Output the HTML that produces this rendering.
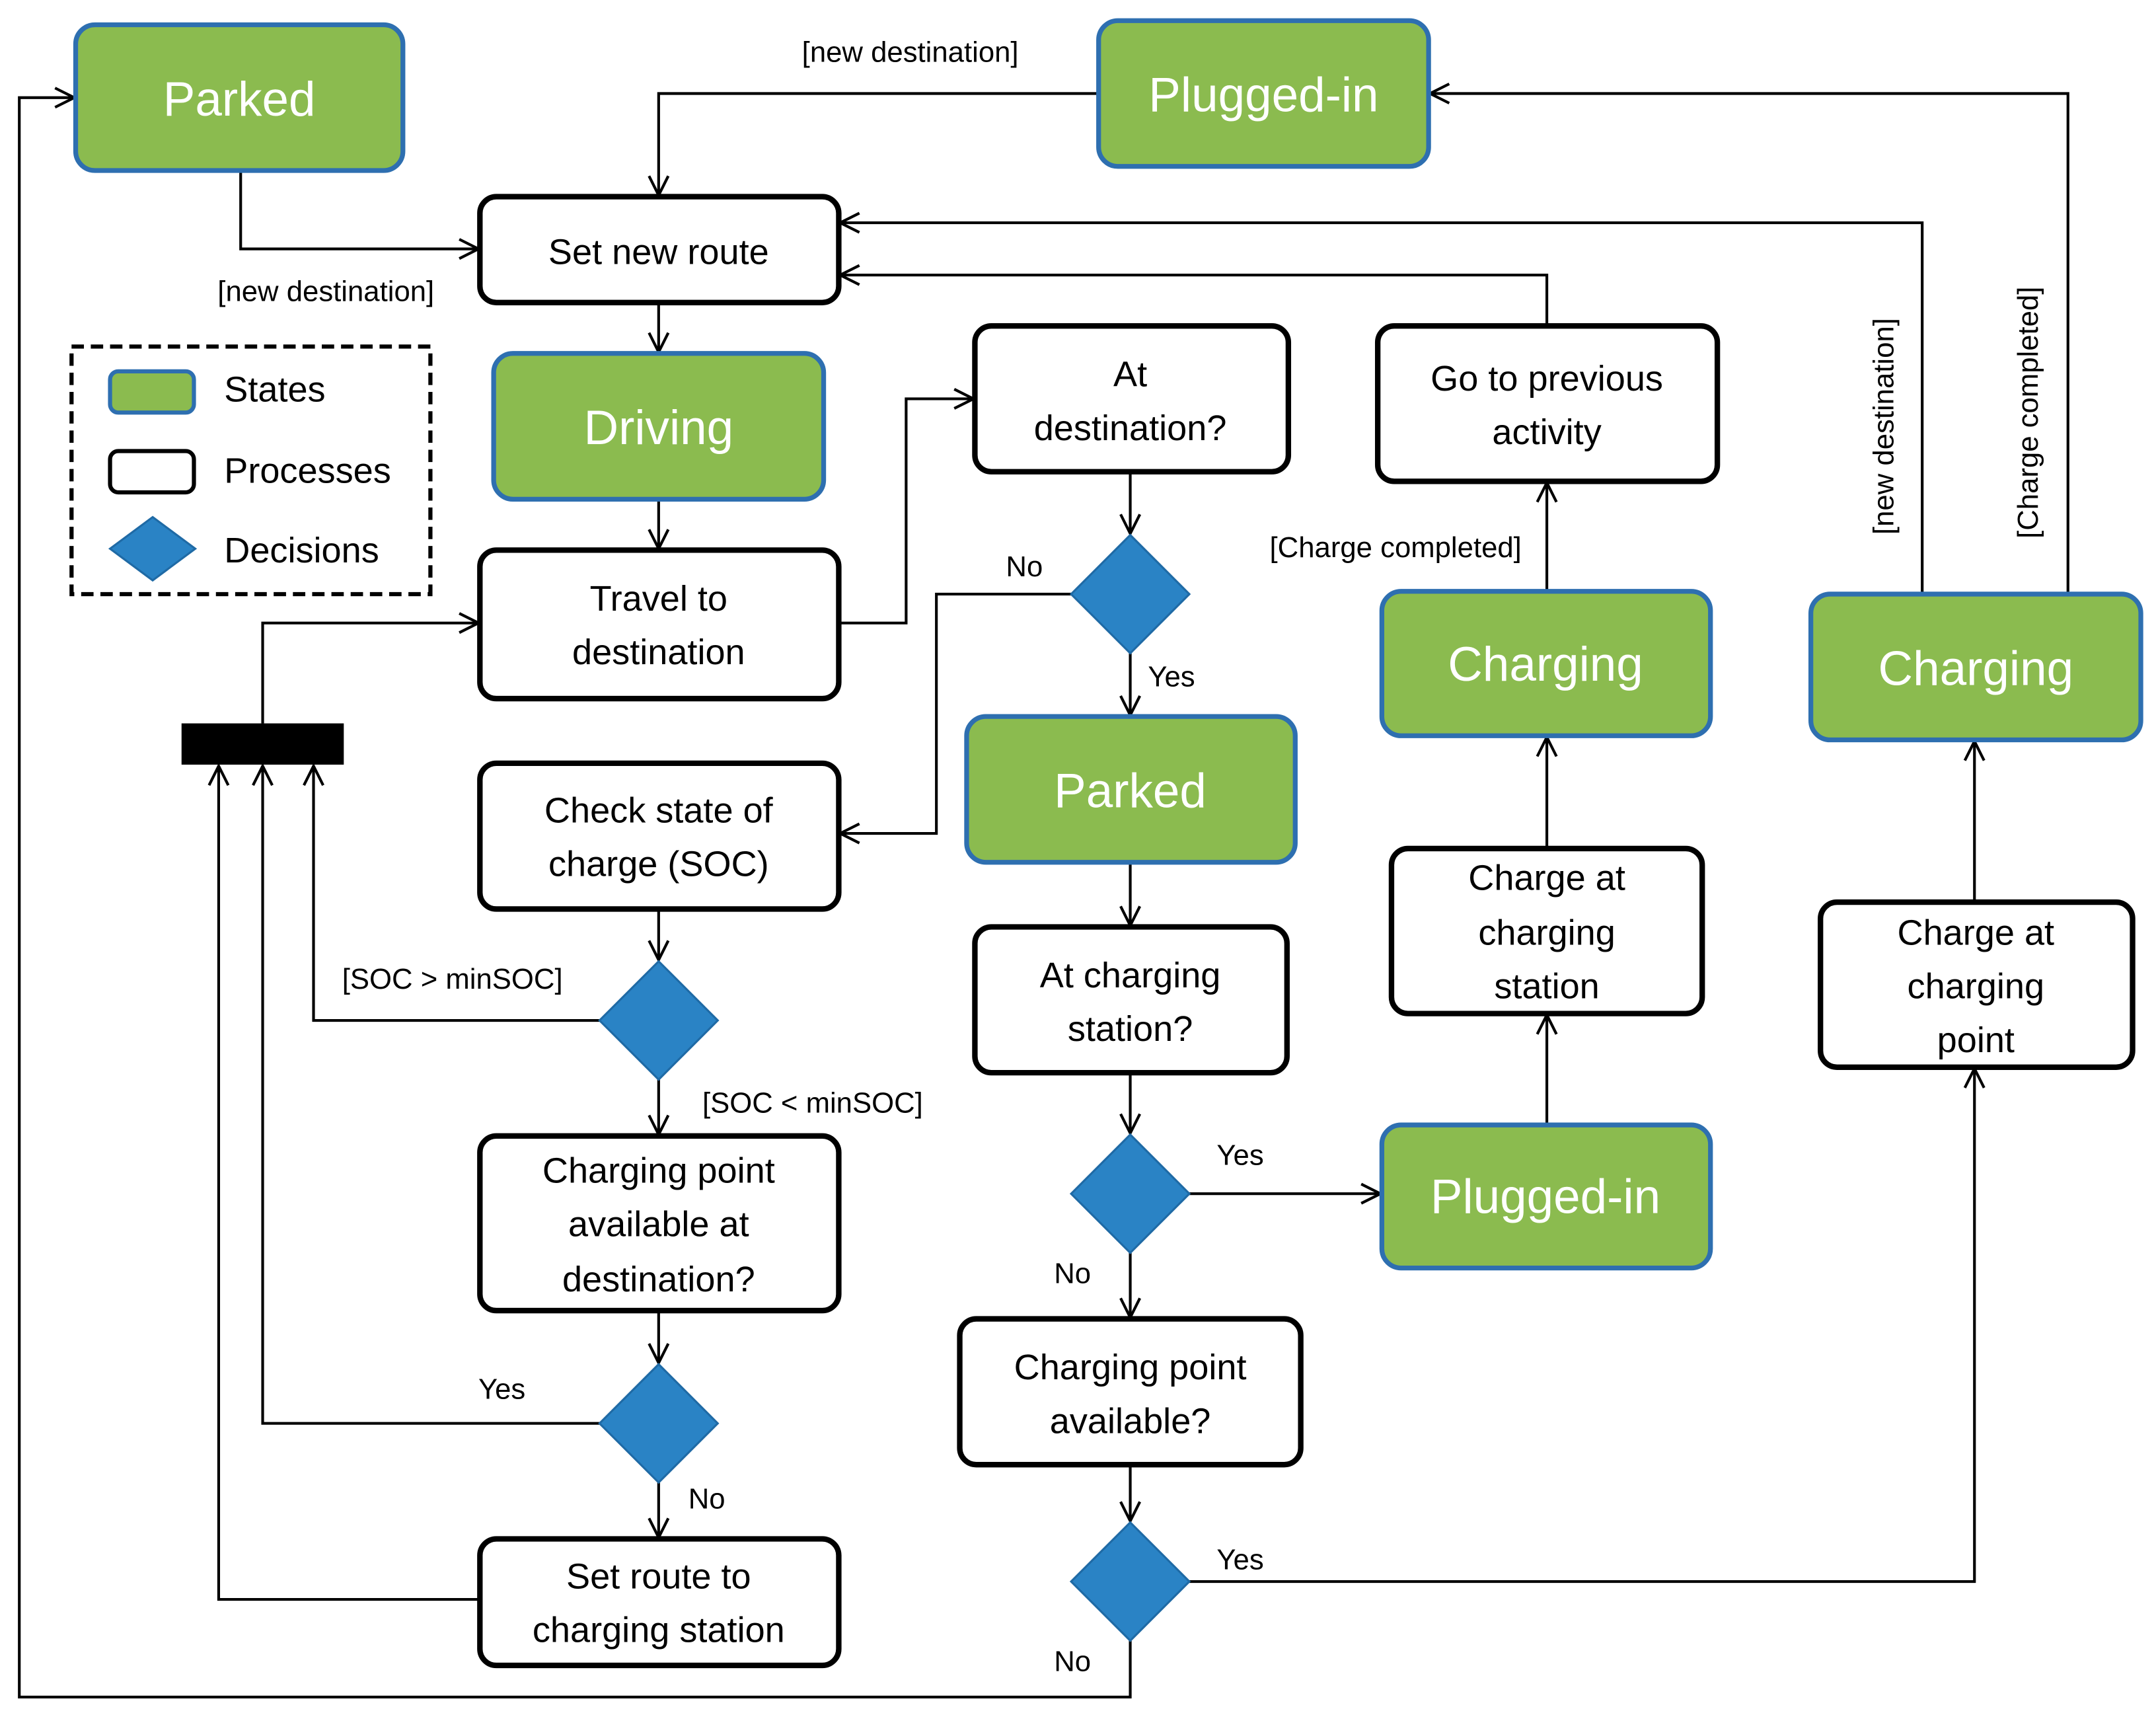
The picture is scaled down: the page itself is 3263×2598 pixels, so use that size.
<!DOCTYPE html>
<html><head><meta charset="utf-8"><style>
html,body{margin:0;padding:0;background:#fff}
svg{display:block}
text{font-family:"Liberation Sans",sans-serif}
.s{fill:#8bbb4f;stroke:#2e6fb0;stroke-width:3.5}
.p{fill:#fff;stroke:#000;stroke-width:4}
.d{fill:#2a83c5;stroke:#1f6aa5;stroke-width:1.5}
.st{fill:#fff;font-size:35px;text-anchor:middle}
.pt{fill:#000;font-size:26px;text-anchor:middle}
.l{fill:#000;font-size:21px;text-anchor:middle}
.c{fill:none;stroke:#000;stroke-width:2}
</style></head><body>
<svg width="3263" height="2598" viewBox="0 0 1568 1248.5" xmlns="http://www.w3.org/2000/svg">
<defs><marker id="a" markerWidth="20" markerHeight="20" refX="16" refY="8" orient="auto" markerUnits="userSpaceOnUse"><polyline points="2,1 16,8 2,15" fill="none" stroke="#000" stroke-width="2"/></marker></defs>

<!-- connectors -->
<g class="c" marker-end="url(#a)">
<polyline points="175,124 175,181 348,181"/>
<polyline points="799,68 479,68 479,142"/>
<polyline points="1504,432 1504,68 1040,68"/>
<polyline points="1398,432 1398,162 611,162"/>
<polyline points="1125,237 1125,200 611,200"/>
<polyline points="479,220 479,256"/>
<polyline points="479,363 479,399"/>
<polyline points="610,453 659,453 659,290 708,290"/>
<polyline points="822,343 822,388"/>
<polyline points="779,432 681,432 681,606 611,606"/>
<polyline points="822,475 822,520"/>
<polyline points="822,627 822,673"/>
<polyline points="822,780 822,824"/>
<polyline points="865,868 1004,868"/>
<polyline points="822,911 822,958"/>
<polyline points="822,1065 822,1106"/>
<polyline points="865,1150 1436,1150 1436,777"/>
<polyline points="822,1193 822,1234 14,1234 14,71 54,71"/>
<polyline points="1125,818 1125,738"/>
<polyline points="1125,617 1125,536"/>
<polyline points="1125,430 1125,351"/>
<polyline points="1436,656 1436,539"/>
<polyline points="479,661 479,698"/>
<polyline points="436,742 228,742 228,557"/>
<polyline points="479,785 479,825"/>
<polyline points="479,953 479,991"/>
<polyline points="436,1035 191,1035 191,557"/>
<polyline points="479,1078 479,1118"/>
<polyline points="349,1163 159,1163 159,557"/>
<polyline points="191,526 191,453 348,453"/>
</g>
<rect x="132" y="526" width="118" height="30" fill="#000"/>

<!-- states -->
<rect class="s" x="55" y="18" width="238" height="106" rx="14"/><text class="st" x="174" y="84">Parked</text>
<rect class="s" x="799" y="15" width="240" height="106" rx="14"/><text class="st" x="919" y="81">Plugged-in</text>
<rect class="s" x="359" y="257" width="240" height="106" rx="14"/><text class="st" x="479" y="323">Driving</text>
<rect class="s" x="1005" y="430" width="239" height="105" rx="14"/><text class="st" x="1124" y="495">Charging</text>
<rect class="s" x="1317" y="432" width="240" height="106" rx="14"/><text class="st" x="1437" y="498">Charging</text>
<rect class="s" x="703" y="521" width="239" height="106" rx="14"/><text class="st" x="822" y="587">Parked</text>
<rect class="s" x="1005" y="818" width="239" height="104" rx="14"/><text class="st" x="1124" y="882">Plugged-in</text>

<!-- processes -->
<rect class="p" x="349" y="143" width="261" height="77" rx="12"/><text class="pt" x="479" y="192">Set new route</text>
<rect class="p" x="349" y="400" width="261" height="108" rx="12"/><text class="pt" x="479" y="444">Travel to</text><text class="pt" x="479" y="483">destination</text>
<rect class="p" x="709" y="237" width="228" height="106" rx="12"/><text class="pt" x="822" y="281">At</text><text class="pt" x="822" y="320">destination?</text>
<rect class="p" x="1002" y="237" width="247" height="113" rx="12"/><text class="pt" x="1125" y="284">Go to previous</text><text class="pt" x="1125" y="323">activity</text>
<rect class="p" x="349" y="555" width="261" height="106" rx="12"/><text class="pt" x="479" y="598">Check state of</text><text class="pt" x="479" y="637">charge (SOC)</text>
<rect class="p" x="709" y="674" width="227" height="106" rx="12"/><text class="pt" x="822" y="718">At charging</text><text class="pt" x="822" y="757">station?</text>
<rect class="p" x="1012" y="617" width="226" height="120" rx="12"/><text class="pt" x="1125" y="647">Charge at</text><text class="pt" x="1125" y="687">charging</text><text class="pt" x="1125" y="726">station</text>
<rect class="p" x="1324" y="656" width="227" height="120" rx="12"/><text class="pt" x="1437" y="687">Charge at</text><text class="pt" x="1437" y="726">charging</text><text class="pt" x="1437" y="765">point</text>
<rect class="p" x="349" y="826" width="261" height="127" rx="12"/><text class="pt" x="479" y="860">Charging point</text><text class="pt" x="479" y="899">available at</text><text class="pt" x="479" y="939">destination?</text>
<rect class="p" x="698" y="959" width="248" height="106" rx="12"/><text class="pt" x="822" y="1003">Charging point</text><text class="pt" x="822" y="1042">available?</text>
<rect class="p" x="349" y="1119" width="261" height="92" rx="12"/><text class="pt" x="479" y="1155">Set route to</text><text class="pt" x="479" y="1194">charging station</text>

<!-- decisions -->
<polygon class="d" points="822,389 865,432 822,475 779,432"/>
<polygon class="d" points="479,699 522,742 479,785 436,742"/>
<polygon class="d" points="822,825 865,868 822,911 779,868"/>
<polygon class="d" points="479,992 522,1035 479,1078 436,1035"/>
<polygon class="d" points="822,1107 865,1150 822,1193 779,1150"/>

<!-- legend -->
<rect x="52" y="252" width="261" height="180" fill="none" stroke="#000" stroke-width="3" stroke-dasharray="9,5"/>
<rect x="80" y="270" width="61" height="30" rx="6" class="s" style="stroke-width:3"/>
<rect x="80" y="328" width="61" height="30" rx="6" class="p" style="stroke-width:3"/>
<polygon class="d" points="111,376 142,399 111,422 80,399"/>
<text x="163" y="292" font-size="26">States</text>
<text x="163" y="351" font-size="26">Processes</text>
<text x="163" y="409" font-size="26">Decisions</text>

<!-- labels -->
<text class="l" x="662" y="45">[new destination]</text>
<text class="l" x="237" y="219">[new destination]</text>
<text class="l" x="1015" y="405">[Charge completed]</text>
<text class="l" x="745" y="419">No</text>
<text class="l" x="852" y="499">Yes</text>
<text class="l" x="329" y="719">[SOC &gt; minSOC]</text>
<text class="l" x="591" y="809">[SOC &lt; minSOC]</text>
<text class="l" x="902" y="847">Yes</text>
<text class="l" x="780" y="933">No</text>
<text class="l" x="365" y="1017">Yes</text>
<text class="l" x="514" y="1097">No</text>
<text class="l" x="902" y="1141">Yes</text>
<text class="l" x="780" y="1215">No</text>
<text class="l" transform="translate(1377,310) rotate(-90)">[new destination]</text>
<text class="l" transform="translate(1482,300) rotate(-90)">[Charge completed]</text>
</svg>
</body></html>
